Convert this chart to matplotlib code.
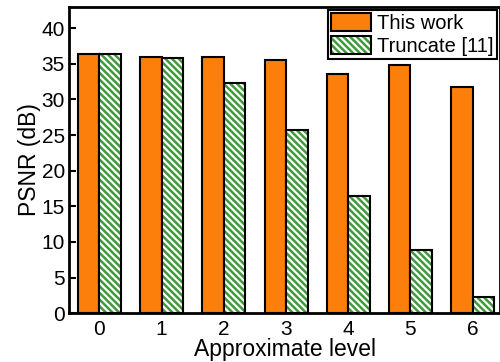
import matplotlib
matplotlib.use("Agg")
import matplotlib.pyplot as plt
import numpy as np
from matplotlib.patches import Patch

plt.rcParams['font.family'] = ['Liberation Sans', 'DejaVu Sans']
plt.rcParams['hatch.linewidth'] = 1.8

levels = [0, 1, 2, 3, 4, 5, 6]
this_work = [36.4, 36.0, 35.9, 35.5, 33.6, 34.9, 31.7]
truncate = [36.4, 35.8, 32.3, 25.7, 16.5, 8.8, 2.2]
series_names = ["This work", "Truncate [11]"]

orange = "#fc7f0c"
green = "#3f9a3a"
hatch = '\\\\\\\\\\'

fig = plt.figure(figsize=(5.0, 3.62), dpi=100)
ax = fig.add_axes([0.138, 0.135, 0.862, 0.846])

x = np.array(levels, dtype=float)
w = 0.345
ax.bar(x - w/2, this_work, w, color=orange, edgecolor='black', linewidth=1.5, zorder=2)
ax.bar(x + w/2, truncate, w, color='white', edgecolor=green, hatch=hatch, linewidth=0, zorder=2)
ax.bar(x + w/2, truncate, w, color='none', edgecolor='black', linewidth=1.5, zorder=3)

ax.set_xlim(-0.49, 6.44)
ax.set_ylim(0, 43)
ax.set_yticks(range(0, 41, 5))
ax.set_xticks(levels)
ax.tick_params(axis='y', direction='in', length=5, width=1.5, labelsize=15, pad=3)
ax.tick_params(axis='x', length=0, labelsize=15, pad=5)
for s in ax.spines.values():
    s.set_linewidth(2)

ax.set_xlabel("Approximate level", fontsize=16.5, labelpad=-1)
ax.set_ylabel("PSNR (dB)", fontsize=16.5, labelpad=0)

h1 = Patch(facecolor=orange, edgecolor='black', linewidth=1.5)
h2a = Patch(facecolor='white', edgecolor=green, hatch=hatch, linewidth=0)
h2b = Patch(facecolor='none', edgecolor='black', linewidth=1.5)
leg = ax.legend([h1, (h2a, h2b)], series_names, loc='upper right', fontsize=14.5,
                frameon=True, fancybox=False, edgecolor='black', framealpha=1,
                borderpad=0.15, handlelength=2.0, handleheight=1.0, handletextpad=0.3,
                labelspacing=0.15, borderaxespad=0.15)
leg.get_frame().set_linewidth(1.5)

fig.savefig("out.png", dpi=100)
